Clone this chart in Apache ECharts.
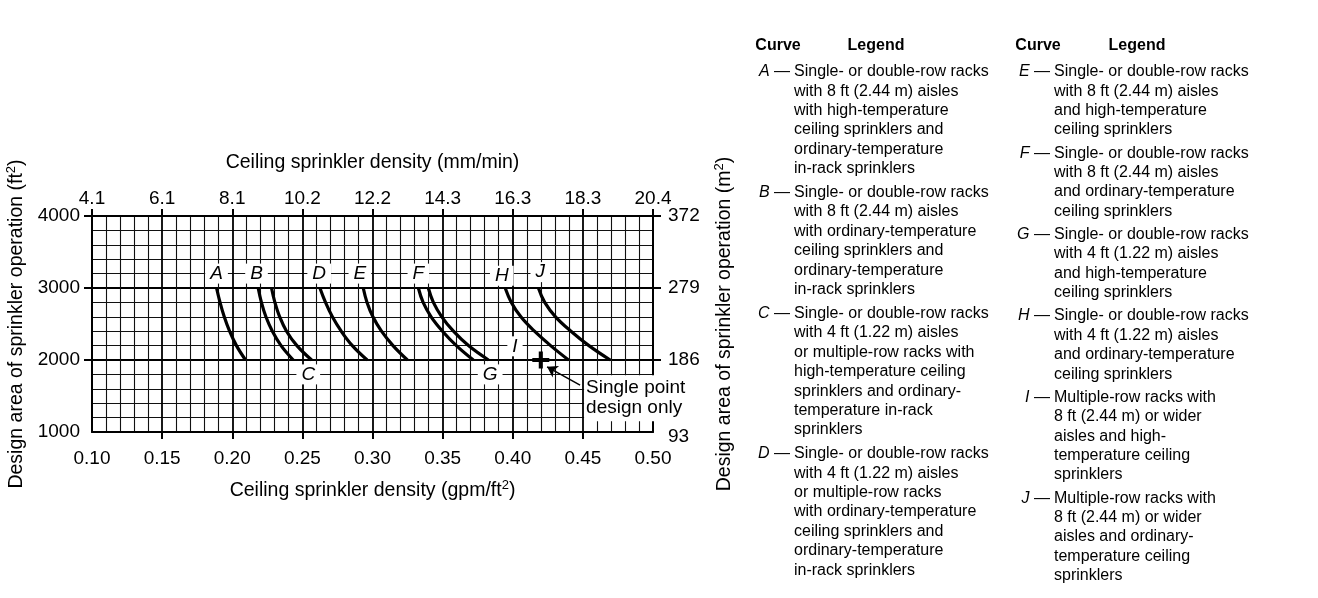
<!DOCTYPE html>
<html>
<head>
<meta charset="utf-8">
<title>Ceiling sprinkler density curves</title>
<script src="https://cdn.jsdelivr.net/npm/echarts@6/dist/echarts.min.js"></script>
<style>
  html, body { margin: 0; padding: 0; background: #fff; }
  #chart { width: 1318px; height: 598px; }
</style>
</head>
<body>
<div id="chart"></div>
<script>
// design areas (ft2) where each curve was read
const areas = [3000, 2800, 2600, 2400, 2200, 2000];
// density (gpm/ft2) of each curve at those areas
const curveA = [0.1888, 0.1913, 0.1943, 0.1981, 0.2030, 0.2095];
const curveB = [0.2185, 0.2208, 0.2240, 0.2286, 0.2348, 0.2435];
const curveC = [0.2280, 0.2304, 0.2338, 0.2387, 0.2461, 0.2566];
const curveD = [0.2625, 0.2665, 0.2714, 0.2777, 0.2856, 0.2962];
const curveE = [0.2934, 0.2961, 0.3003, 0.3064, 0.3146, 0.3249];
const curveF = [0.3327, 0.3361, 0.3418, 0.3499, 0.3598, 0.3719];
const curveG = [0.3398, 0.3434, 0.3494, 0.3577, 0.3684, 0.3827];
const curveH = [0.3946, 0.3990, 0.4058, 0.4155, 0.4270, 0.4398];
const curveJ = [0.4183, 0.4228, 0.4305, 0.4415, 0.4543, 0.4695];
const curves = [curveA, curveB, curveC, curveD, curveE, curveF, curveG, curveH, curveJ];

// curve letters on the chart
const labelNames = ['A', 'B', 'C', 'D', 'E', 'F', 'G', 'H', 'I', 'J'];
const labelX = [0.1888, 0.2173, 0.2542, 0.2620, 0.2910, 0.3327, 0.3839, 0.3922, 0.4016, 0.4196];
const labelY = [3200, 3200, 1800, 3200, 3200, 3200, 1800, 3170, 2190, 3220];

// single point design
const plusPoint = [0.42, 2000];
const arrowFrom = [0.4480, 1650];
const arrowTo = [0.4245, 1905];
const notePoint = [0.4505, 1470];
const noteText = 'Single point\ndesign only';

// tick marks (the corner ones are left out in the original)
const xTickValues = [0.15, 0.20, 0.25, 0.30, 0.35, 0.40, 0.45];
const yTickValues = [2000, 3000, 4000];

// tick labels of the second axes
const mmLabels = ['4.1', '6.1', '8.1', '10.2', '12.2', '14.3', '16.3', '18.3', '20.4'];
const m2Labels = ['93', '186', '279', '372'];

// legend table
const legendLetters1 = ['A', 'B', 'C', 'D'];
const legendTexts1 = [
  ['Single- or double-row racks', 'with 8 ft (2.44 m) aisles', 'with high-temperature', 'ceiling sprinklers and', 'ordinary-temperature', 'in-rack sprinklers'],
  ['Single- or double-row racks', 'with 8 ft (2.44 m) aisles', 'with ordinary-temperature', 'ceiling sprinklers and', 'ordinary-temperature', 'in-rack sprinklers'],
  ['Single- or double-row racks', 'with 4 ft (1.22 m) aisles', 'or multiple-row racks with', 'high-temperature ceiling', 'sprinklers and ordinary-', 'temperature in-rack', 'sprinklers'],
  ['Single- or double-row racks', 'with 4 ft (1.22 m) aisles', 'or multiple-row racks', 'with ordinary-temperature', 'ceiling sprinklers and', 'ordinary-temperature', 'in-rack sprinklers']
];
const legendLetters2 = ['E', 'F', 'G', 'H', 'I', 'J'];
const legendTexts2 = [
  ['Single- or double-row racks', 'with 8 ft (2.44 m) aisles', 'and high-temperature', 'ceiling sprinklers'],
  ['Single- or double-row racks', 'with 8 ft (2.44 m) aisles', 'and ordinary-temperature', 'ceiling sprinklers'],
  ['Single- or double-row racks', 'with 4 ft (1.22 m) aisles', 'and high-temperature', 'ceiling sprinklers'],
  ['Single- or double-row racks', 'with 4 ft (1.22 m) aisles', 'and ordinary-temperature', 'ceiling sprinklers'],
  ['Multiple-row racks with', '8 ft (2.44 m) or wider', 'aisles and high-', 'temperature ceiling', 'sprinklers'],
  ['Multiple-row racks with', '8 ft (2.44 m) or wider', 'aisles and ordinary-', 'temperature ceiling', 'sprinklers']
];

const font = '"Liberation Sans", Arial, Helvetica, sans-serif';
const black = '#000';

// legend built with graphic texts
function legendColumn(letters, texts, textLeft, top, gap) {
  const lh = 19.4;
  const els = [];
  let y = top;
  letters.forEach(function (l, i) {
    els.push({
      type: 'text', x: textLeft - 2, y: y,
      style: {
        text: '{i|' + l + '} \u2014', align: 'right', verticalAlign: 'top',
        font: '16px ' + font, fill: black, lineHeight: lh,
        rich: { i: { fontStyle: 'italic', fontSize: 16, fontFamily: font, lineHeight: lh } }
      }
    });
    els.push({
      type: 'text', x: textLeft + 2, y: y,
      style: {
        text: texts[i].join('\n'), align: 'left', verticalAlign: 'top',
        font: '16px ' + font, fill: black, lineHeight: lh
      }
    });
    y += texts[i].length * lh + gap;
  });
  return els;
}

function header(x, text) {
  return {
    type: 'text', x: x, y: 46,
    style: { text: text, align: 'center', verticalAlign: 'middle', font: 'bold 16px ' + font, fill: black }
  };
}

const graphics = [
  header(778, 'Curve'), header(876, 'Legend'),
  header(1038, 'Curve'), header(1137, 'Legend')
].concat(legendColumn(legendLetters1, legendTexts1, 792, 62, 4.5))
 .concat(legendColumn(legendLetters2, legendTexts2, 1052, 62, 3.8));

const titleSize = 19.5;
const tickSize = 19;
const supRich = {
  s: { fontSize: 13, fontFamily: font, color: black, verticalAlign: 'top', lineHeight: 23 }
};

const lineSeries = curves.map(function (c) {
  return {
    type: 'line',
    data: areas.map(function (a, i) { return [c[i], a]; }),
    smooth: 0.4,
    showSymbol: false,
    silent: true,
    lineStyle: { color: black, width: 3.2, cap: 'butt' },
    z: 3
  };
});

const chart = echarts.init(document.getElementById('chart'));
const option = {
  animation: false,
  backgroundColor: '#fff',
  textStyle: { fontFamily: font },
  grid: { left: 92, top: 216, width: 561, height: 216 },
  xAxis: [
    {
      type: 'value', position: 'bottom', min: 0.1, max: 0.5, interval: 0.05,
      axisLine: { show: true, lineStyle: { color: black, width: 2 } },
      axisTick: { show: true, length: 7, customValues: xTickValues, lineStyle: { color: black, width: 2 } },
      axisLabel: { color: black, fontSize: tickSize, fontFamily: font, margin: 17, formatter: function (v) { return v.toFixed(2); } },
      splitLine: { show: true, lineStyle: { color: black, width: 1.8 } },
      minorTick: { show: false, splitNumber: 5 },
      minorSplitLine: { show: true, lineStyle: { color: '#111', width: 1.1 } },
      name: 'Ceiling sprinkler density (gpm/ft{s|2})',
      nameLocation: 'middle', nameGap: 47,
      nameTextStyle: { color: black, fontSize: titleSize, fontFamily: font, lineHeight: 23, rich: supRich }
    },
    {
      type: 'value', position: 'top', min: 0.1, max: 0.5, interval: 0.05,
      axisLine: { show: true, lineStyle: { color: black, width: 2 } },
      axisTick: { show: true, length: 7, lineStyle: { color: black, width: 2 } },
      axisLabel: {
        color: black, fontSize: tickSize, fontFamily: font, margin: 8,
        formatter: function (v) { return mmLabels[Math.round((v - 0.1) / 0.05)]; }
      },
      splitLine: { show: false },
      name: 'Ceiling sprinkler density (mm/min)',
      nameLocation: 'middle', nameGap: 43,
      nameTextStyle: { color: black, fontSize: titleSize, fontFamily: font }
    }
  ],
  yAxis: [
    {
      type: 'value', position: 'left', min: 1000, max: 4000, interval: 1000,
      axisLine: { show: true, lineStyle: { color: black, width: 2 } },
      axisTick: { show: true, length: 8, customValues: yTickValues, lineStyle: { color: black, width: 2 } },
      axisLabel: { color: black, fontSize: tickSize, fontFamily: font, margin: 12, formatter: function (v) { return String(v); } },
      splitLine: { show: true, lineStyle: { color: black, width: 1.8 } },
      minorTick: { show: false, splitNumber: 5 },
      minorSplitLine: { show: true, lineStyle: { color: '#111', width: 1.1 } },
      name: 'Design area of sprinkler operation (ft{s|2})',
      nameLocation: 'middle', nameGap: 64, nameRotate: 90,
      nameTextStyle: { color: black, fontSize: titleSize, fontFamily: font, lineHeight: 23, rich: supRich }
    },
    {
      type: 'value', position: 'right', min: 1000, max: 4000, interval: 1000,
      axisLine: { show: true, lineStyle: { color: black, width: 2 } },
      axisTick: { show: true, length: 8, customValues: yTickValues, lineStyle: { color: black, width: 2 } },
      axisLabel: {
        color: black, fontSize: tickSize, fontFamily: font, margin: 15,
        formatter: function (v) {
          const t = m2Labels[Math.round((v - 1000) / 1000)];
          return v === 1000 ? '{low|' + t + '}' : t;
        },
        rich: { low: { fontSize: tickSize, fontFamily: font, color: black, padding: [10, 0, 0, 0] } }
      },
      splitLine: { show: false },
      name: 'Design area of sprinkler operation (m{s|2})',
      nameLocation: 'middle', nameGap: 60, nameRotate: 90,
      nameTextStyle: { color: black, fontSize: titleSize, fontFamily: font, lineHeight: 23, rich: supRich }
    }
  ],
  series: lineSeries.concat([
    {
      type: 'scatter',
      data: labelNames.map(function (n, i) { return [labelX[i], labelY[i], n]; }),
      symbolSize: 1,
      itemStyle: { color: 'rgba(0,0,0,0)', opacity: 1 },
      silent: true,
      z: 5,
      label: {
        show: true, position: 'inside',
        formatter: function (p) { return p.data[2]; },
        color: black, fontSize: 19, fontStyle: 'italic', fontFamily: font,
        backgroundColor: '#fff', padding: [1, 5, 0, 5], opacity: 1
      }
    },
    {
      type: 'scatter',
      data: [plusPoint],
      symbol: 'path://M3.8,0H6.2V3.8H10V6.2H6.2V10H3.8V6.2H0V3.8H3.8Z',
      symbolSize: 17,
      itemStyle: { color: black, opacity: 1 },
      silent: true,
      z: 6
    },
    {
      type: 'scatter',
      data: [notePoint],
      symbolSize: 1,
      itemStyle: { color: 'rgba(0,0,0,0)', opacity: 1 },
      silent: true,
      z: 5,
      label: {
        show: true, position: 'right', distance: 0, align: 'left',
        formatter: noteText,
        color: black, fontSize: 19, fontFamily: font, lineHeight: 20,
        backgroundColor: '#fff', padding: [3, 2, 3, 2], opacity: 1
      }
    },
    {
      type: 'lines',
      coordinateSystem: 'cartesian2d',
      data: [{ coords: [arrowFrom, arrowTo] }],
      symbol: ['none', 'arrow'],
      symbolSize: [0, 10],
      silent: true,
      lineStyle: { color: black, width: 1.5, opacity: 1 },
      z: 6
    }
  ]),
  graphic: graphics
};
chart.setOption(option);
</script>
</body>
</html>
